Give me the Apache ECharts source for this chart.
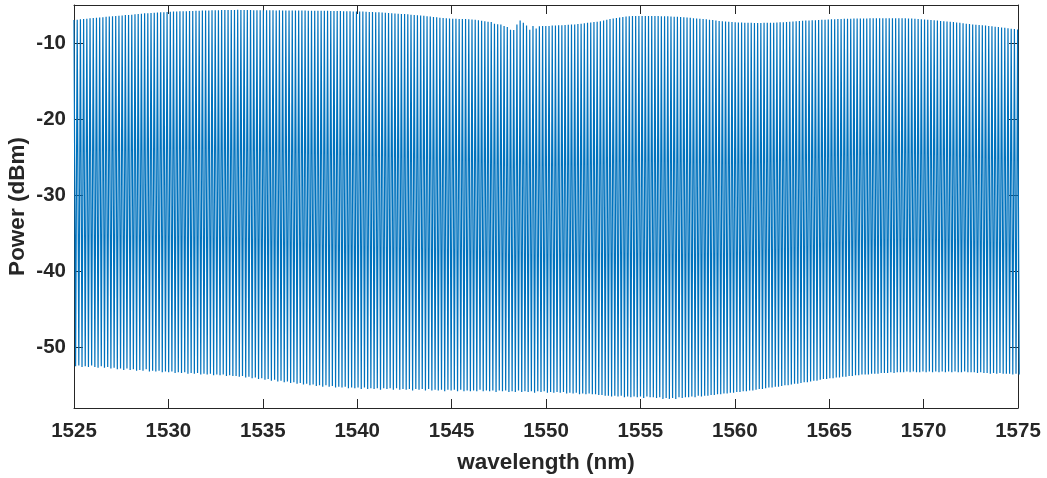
<!DOCTYPE html>
<html>
<head>
<meta charset="utf-8">
<script src="https://cdn.jsdelivr.net/npm/echarts@6/dist/echarts.min.js"></script>
<style>
html,body{margin:0;padding:0;background:#fff;}
#chart{width:1047px;height:478px;}
</style>
</head>
<body>
<div id="chart"></div>
<script>
// Sample wavelengths (nm): alternating fringe peak / fringe trough
const wavelength = [
1525.000,1525.085,1525.170,1525.255,1525.340,1525.425,1525.510,1525.595,1525.680,1525.765,1525.850,1525.935,1526.020,1526.105,1526.190,1526.275,1526.360,1526.445,1526.530,1526.615,
1526.700,1526.785,1526.870,1526.955,1527.040,1527.125,1527.210,1527.295,1527.380,1527.465,1527.550,1527.635,1527.720,1527.805,1527.890,1527.975,1528.060,1528.145,1528.230,1528.315,
1528.400,1528.485,1528.570,1528.655,1528.740,1528.825,1528.910,1528.995,1529.080,1529.165,1529.250,1529.335,1529.420,1529.505,1529.590,1529.675,1529.760,1529.845,1529.930,1530.015,
1530.100,1530.185,1530.270,1530.355,1530.440,1530.525,1530.610,1530.695,1530.780,1530.865,1530.950,1531.035,1531.120,1531.205,1531.290,1531.375,1531.460,1531.545,1531.630,1531.715,
1531.800,1531.885,1531.970,1532.055,1532.140,1532.225,1532.310,1532.395,1532.480,1532.565,1532.650,1532.735,1532.820,1532.905,1532.990,1533.075,1533.160,1533.245,1533.330,1533.415,
1533.500,1533.585,1533.670,1533.755,1533.840,1533.925,1534.010,1534.095,1534.180,1534.265,1534.350,1534.435,1534.520,1534.605,1534.690,1534.775,1534.860,1534.945,1535.030,1535.115,
1535.200,1535.285,1535.370,1535.455,1535.540,1535.625,1535.710,1535.795,1535.880,1535.965,1536.050,1536.135,1536.220,1536.305,1536.390,1536.475,1536.560,1536.645,1536.730,1536.815,
1536.900,1536.985,1537.070,1537.155,1537.240,1537.325,1537.410,1537.495,1537.580,1537.665,1537.750,1537.835,1537.920,1538.005,1538.090,1538.175,1538.260,1538.345,1538.430,1538.515,
1538.600,1538.685,1538.770,1538.855,1538.940,1539.025,1539.110,1539.195,1539.280,1539.365,1539.450,1539.535,1539.620,1539.705,1539.790,1539.875,1539.960,1540.045,1540.130,1540.215,
1540.300,1540.385,1540.470,1540.555,1540.640,1540.725,1540.810,1540.895,1540.980,1541.065,1541.150,1541.235,1541.320,1541.405,1541.490,1541.575,1541.660,1541.745,1541.830,1541.915,
1542.000,1542.085,1542.170,1542.255,1542.340,1542.425,1542.510,1542.595,1542.680,1542.765,1542.850,1542.935,1543.020,1543.105,1543.190,1543.275,1543.360,1543.445,1543.530,1543.615,
1543.700,1543.785,1543.870,1543.955,1544.040,1544.125,1544.210,1544.295,1544.380,1544.465,1544.550,1544.635,1544.720,1544.805,1544.890,1544.975,1545.060,1545.145,1545.230,1545.315,
1545.400,1545.485,1545.570,1545.655,1545.740,1545.825,1545.910,1545.995,1546.080,1546.165,1546.250,1546.335,1546.420,1546.505,1546.590,1546.675,1546.760,1546.845,1546.930,1547.015,
1547.100,1547.185,1547.270,1547.355,1547.440,1547.525,1547.610,1547.695,1547.780,1547.865,1547.950,1548.035,1548.120,1548.205,1548.290,1548.375,1548.460,1548.545,1548.630,1548.715,
1548.800,1548.885,1548.970,1549.055,1549.140,1549.225,1549.310,1549.395,1549.480,1549.565,1549.650,1549.735,1549.820,1549.905,1549.990,1550.075,1550.160,1550.245,1550.330,1550.415,
1550.500,1550.585,1550.670,1550.755,1550.840,1550.925,1551.010,1551.095,1551.180,1551.265,1551.350,1551.435,1551.520,1551.605,1551.690,1551.775,1551.860,1551.945,1552.030,1552.115,
1552.200,1552.285,1552.370,1552.455,1552.540,1552.625,1552.710,1552.795,1552.880,1552.965,1553.050,1553.135,1553.220,1553.305,1553.390,1553.475,1553.560,1553.645,1553.730,1553.815,
1553.900,1553.985,1554.070,1554.155,1554.240,1554.325,1554.410,1554.495,1554.580,1554.665,1554.750,1554.835,1554.920,1555.005,1555.090,1555.175,1555.260,1555.345,1555.430,1555.515,
1555.600,1555.685,1555.770,1555.855,1555.940,1556.025,1556.110,1556.195,1556.280,1556.365,1556.450,1556.535,1556.620,1556.705,1556.790,1556.875,1556.960,1557.045,1557.130,1557.215,
1557.300,1557.385,1557.470,1557.555,1557.640,1557.725,1557.810,1557.895,1557.980,1558.065,1558.150,1558.235,1558.320,1558.405,1558.490,1558.575,1558.660,1558.745,1558.830,1558.915,
1559.000,1559.085,1559.170,1559.255,1559.340,1559.425,1559.510,1559.595,1559.680,1559.765,1559.850,1559.935,1560.020,1560.105,1560.190,1560.275,1560.360,1560.445,1560.530,1560.615,
1560.700,1560.785,1560.870,1560.955,1561.040,1561.125,1561.210,1561.295,1561.380,1561.465,1561.550,1561.635,1561.720,1561.805,1561.890,1561.975,1562.060,1562.145,1562.230,1562.315,
1562.400,1562.485,1562.570,1562.655,1562.740,1562.825,1562.910,1562.995,1563.080,1563.165,1563.250,1563.335,1563.420,1563.505,1563.590,1563.675,1563.760,1563.845,1563.930,1564.015,
1564.100,1564.185,1564.270,1564.355,1564.440,1564.525,1564.610,1564.695,1564.780,1564.865,1564.950,1565.035,1565.120,1565.205,1565.290,1565.375,1565.460,1565.545,1565.630,1565.715,
1565.800,1565.885,1565.970,1566.055,1566.140,1566.225,1566.310,1566.395,1566.480,1566.565,1566.650,1566.735,1566.820,1566.905,1566.990,1567.075,1567.160,1567.245,1567.330,1567.415,
1567.500,1567.585,1567.670,1567.755,1567.840,1567.925,1568.010,1568.095,1568.180,1568.265,1568.350,1568.435,1568.520,1568.605,1568.690,1568.775,1568.860,1568.945,1569.030,1569.115,
1569.200,1569.285,1569.370,1569.455,1569.540,1569.625,1569.710,1569.795,1569.880,1569.965,1570.050,1570.135,1570.220,1570.305,1570.390,1570.475,1570.560,1570.645,1570.730,1570.815,
1570.900,1570.985,1571.070,1571.155,1571.240,1571.325,1571.410,1571.495,1571.580,1571.665,1571.750,1571.835,1571.920,1572.005,1572.090,1572.175,1572.260,1572.345,1572.430,1572.515,
1572.600,1572.685,1572.770,1572.855,1572.940,1573.025,1573.110,1573.195,1573.280,1573.365,1573.450,1573.535,1573.620,1573.705,1573.790,1573.875,1573.960,1574.045,1574.130,1574.215,
1574.300,1574.385,1574.470,1574.555,1574.640,1574.725,1574.810,1574.895,1574.980,1575.065
];

// Fringe peak powers (dBm), one per peak sample
const peakPower = [
-6.97,-6.93,-6.87,-6.85,-6.8,-6.75,-6.72,-6.67,-6.65,-6.61,
-6.55,-6.52,-6.47,-6.45,-6.4,-6.37,-6.33,-6.3,-6.27,-6.23,
-6.18,-6.15,-6.1,-6.08,-6.05,-6.02,-5.99,-5.97,-5.95,-5.92,
-5.89,-5.87,-5.85,-5.83,-5.82,-5.81,-5.8,-5.78,-5.77,-5.75,
-5.73,-5.72,-5.71,-5.7,-5.69,-5.68,-5.67,-5.66,-5.65,-5.65,
-5.65,-5.64,-5.65,-5.66,-5.66,-5.67,-5.68,-5.68,-5.69,-5.7,
-5.7,-5.69,-5.7,-5.71,-5.7,-5.71,-5.72,-5.71,-5.72,-5.73,
-5.73,-5.74,-5.74,-5.75,-5.75,-5.76,-5.75,-5.76,-5.77,-5.77,
-5.78,-5.79,-5.8,-5.8,-5.81,-5.82,-5.83,-5.84,-5.85,-5.86,
-5.87,-5.89,-5.91,-5.93,-5.95,-5.97,-6.0,-6.02,-6.05,-6.08,
-6.11,-6.14,-6.17,-6.2,-6.23,-6.27,-6.31,-6.35,-6.39,-6.43,
-6.47,-6.52,-6.57,-6.62,-6.67,-6.71,-6.75,-6.78,-6.8,-6.82,
-6.83,-6.84,-6.85,-6.87,-6.9,-6.95,-7.01,-7.07,-7.13,-7.19,
-7.25,-7.45,-7.53,-7.57,-7.75,-7.9,-8.25,-8.3,-7.55,-7.05,
-7.35,-7.7,-8.25,-7.75,-8.1,-7.8,-7.75,-7.75,-7.75,-7.7,
-7.7,-7.67,-7.65,-7.63,-7.6,-7.58,-7.55,-7.5,-7.45,-7.4,
-7.35,-7.3,-7.25,-7.2,-7.13,-7.05,-6.95,-6.85,-6.77,-6.7,
-6.63,-6.57,-6.52,-6.48,-6.45,-6.45,-6.44,-6.45,-6.45,-6.45,
-6.45,-6.45,-6.46,-6.47,-6.48,-6.49,-6.51,-6.53,-6.55,-6.58,
-6.61,-6.65,-6.69,-6.73,-6.77,-6.81,-6.85,-6.89,-6.93,-6.97,
-7.05,-7.09,-7.13,-7.17,-7.2,-7.23,-7.26,-7.29,-7.31,-7.33,
-7.34,-7.35,-7.36,-7.36,-7.36,-7.35,-7.34,-7.33,-7.32,-7.3,
-7.28,-7.26,-7.23,-7.2,-7.17,-7.14,-7.11,-7.08,-7.05,-7.03,
-7.01,-6.99,-6.97,-6.95,-6.93,-6.91,-6.89,-6.87,-6.85,-6.83,
-6.82,-6.81,-6.8,-6.79,-6.78,-6.77,-6.77,-6.76,-6.75,-6.75,
-6.75,-6.74,-6.74,-6.73,-6.73,-6.73,-6.74,-6.74,-6.75,-6.75,
-6.77,-6.79,-6.81,-6.84,-6.87,-6.9,-6.93,-6.97,-7.01,-7.05,
-7.09,-7.13,-7.17,-7.21,-7.25,-7.3,-7.35,-7.4,-7.45,-7.5,
-7.55,-7.59,-7.63,-7.67,-7.71,-7.75,-7.8,-7.85,-7.9,-7.95,
-7.99,-8.05,-8.11,-8.17,-8.23
];

// Fringe trough powers (dBm), one per trough sample
const troughPower = [
-52.5,-52.4,-52.6,-52.5,-52.6,-52.4,-52.6,-52.7,-52.5,-52.7,
-52.6,-52.8,-52.7,-52.9,-52.8,-53.0,-52.8,-53.0,-52.9,-53.1,
-53.0,-53.1,-52.9,-53.2,-53.1,-53.2,-53.1,-53.3,-53.2,-53.3,
-53.2,-53.4,-53.3,-53.4,-53.3,-53.5,-53.4,-53.5,-53.4,-53.6,
-53.5,-53.6,-53.5,-53.7,-53.6,-53.7,-53.6,-53.8,-53.7,-53.8,
-53.8,-53.9,-53.8,-54.0,-53.9,-54.1,-54.0,-54.2,-54.1,-54.3,
-54.2,-54.4,-54.3,-54.5,-54.4,-54.6,-54.5,-54.7,-54.6,-54.8,
-54.7,-54.9,-54.8,-55.0,-54.9,-55.1,-55.0,-55.2,-55.0,-55.2,
-55.1,-55.3,-55.2,-55.3,-55.2,-55.4,-55.3,-55.4,-55.3,-55.5,
-55.3,-55.5,-55.4,-55.5,-55.4,-55.6,-55.4,-55.5,-55.4,-55.6,
-55.4,-55.6,-55.5,-55.6,-55.5,-55.7,-55.5,-55.6,-55.5,-55.7,
-55.5,-55.7,-55.6,-55.7,-55.6,-55.8,-55.6,-55.7,-55.6,-55.8,
-55.6,-55.8,-55.7,-55.8,-55.7,-55.8,-55.6,-55.8,-55.7,-55.8,
-55.7,-55.9,-55.7,-55.8,-55.7,-55.9,-55.8,-55.9,-55.7,-55.9,
-55.8,-55.9,-55.8,-56.0,-55.8,-55.9,-55.8,-56.0,-55.9,-56.0,
-55.9,-56.0,-55.9,-56.1,-56.0,-56.1,-56.0,-56.2,-56.1,-56.2,
-56.1,-56.2,-56.2,-56.3,-56.3,-56.4,-56.4,-56.5,-56.4,-56.5,
-56.4,-56.6,-56.5,-56.6,-56.5,-56.6,-56.5,-56.7,-56.5,-56.6,
-56.6,-56.7,-56.6,-56.8,-56.7,-56.8,-56.7,-56.8,-56.6,-56.7,
-56.6,-56.6,-56.5,-56.6,-56.4,-56.5,-56.4,-56.4,-56.3,-56.3,
-56.2,-56.2,-56.1,-56.1,-56.0,-56.0,-55.9,-55.9,-55.8,-55.8,
-55.7,-55.7,-55.6,-55.5,-55.5,-55.4,-55.3,-55.3,-55.2,-55.2,
-55.1,-55.0,-55.0,-54.9,-54.8,-54.8,-54.7,-54.6,-54.6,-54.5,
-54.4,-54.4,-54.3,-54.2,-54.2,-54.1,-54.1,-54.0,-54.0,-53.9,
-53.9,-53.8,-53.8,-53.7,-53.7,-53.6,-53.6,-53.6,-53.5,-53.5,
-53.5,-53.4,-53.4,-53.4,-53.3,-53.4,-53.3,-53.3,-53.3,-53.2,
-53.3,-53.2,-53.3,-53.3,-53.2,-53.3,-53.2,-53.3,-53.2,-53.3,
-53.2,-53.3,-53.2,-53.3,-53.2,-53.3,-53.3,-53.2,-53.3,-53.3,
-53.3,-53.4,-53.3,-53.4,-53.4,-53.5,-53.4,-53.5,-53.4,-53.5,
-53.5,-53.5,-53.6,-53.5,-53.6
];

const xTicks = [1525, 1575, 5];   // min, max, step
const yRange = [-58, -5];

const seriesData = wavelength.map((w, i) =>
  [w, i % 2 === 0 ? peakPower[i / 2] : troughPower[(i - 1) / 2]]);

const FONT = "'Liberation Sans', Arial, Helvetica, sans-serif";
const INK = '#262626';

const chart = echarts.init(document.getElementById('chart'), null, {renderer: 'canvas'});
const baseX = {
  type: 'value', min: xTicks[0], max: xTicks[1], interval: xTicks[2],
  splitLine: {show: false},
  axisLine: {show: true, onZero: false, lineStyle: {color: INK, width: 1}},
  axisTick: {show: true, inside: true, length: 9, lineStyle: {color: INK, width: 1}}
};
const baseY = {
  type: 'value', min: yRange[0], max: yRange[1], splitNumber: 5,
  splitLine: {show: false},
  axisLine: {show: true, onZero: false, lineStyle: {color: INK, width: 1}},
  axisTick: {show: true, inside: true, length: 9, lineStyle: {color: INK, width: 1}}
};
chart.setOption({
  animation: false,
  backgroundColor: '#ffffff',
  grid: {left: 74, right: 29, top: 5, bottom: 70, containLabel: false, outerBoundsMode: 'none'},
  xAxis: [
    Object.assign({}, baseX, {
      position: 'bottom',
      name: 'wavelength (nm)', nameLocation: 'middle', nameGap: 43, nameMoveOverlap: false,
      nameTextStyle: {fontFamily: FONT, fontSize: 22.5, fontWeight: 'bold', color: INK},
      axisLabel: {fontFamily: FONT, fontSize: 20.5, fontWeight: 'bold', color: INK, margin: 13,
        formatter: v => String(v)}
    }),
    Object.assign({}, baseX, {position: 'top', axisLabel: {show: false}})
  ],
  yAxis: [
    Object.assign({}, baseY, {
      position: 'left',
      name: 'Power (dBm)', nameLocation: 'middle', nameGap: 45, nameRotate: 90, nameMoveOverlap: false,
      nameTextStyle: {fontFamily: FONT, fontSize: 22.5, fontWeight: 'bold', color: INK},
      axisLabel: {fontFamily: FONT, fontSize: 20.5, fontWeight: 'bold', color: INK, margin: 8,
        showMinLabel: false, showMaxLabel: false,
        formatter: v => (v % 10 === 0 ? String(v) : '')}
    }),
    Object.assign({}, baseY, {position: 'right', axisLabel: {show: false}})
  ],
  series: [{
    type: 'line',
    xAxisIndex: 0, yAxisIndex: 0,
    data: seriesData,
    showSymbol: false,
    symbol: 'none',
    sampling: null,
    clip: true,
    lineStyle: {color: '#0072BD', width: 1.2},
    emphasis: {disabled: true}
  }]
});
</script>
</body>
</html>
